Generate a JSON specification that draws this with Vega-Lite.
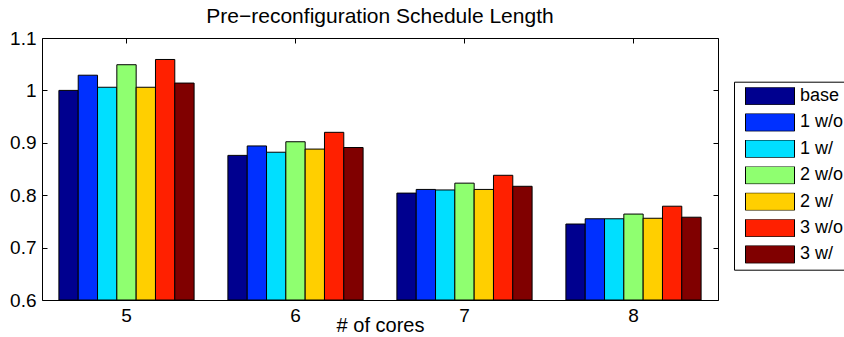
{
  "$schema": "https://vega.github.io/schema/vega-lite/v6.json",
  "width": 676,
  "height": 262,
  "autosize": {"type": "none"},
  "padding": {"left": 42, "top": 38, "right": 126, "bottom": 37},
  "title": {"text": "Pre−reconfiguration Schedule Length", "fontSize": 21, "fontWeight": "normal", "font": "Liberation Sans", "color": "black", "offset": 2, "anchor": "middle"},
  "data": {"values": [
    {"cores": "5", "config": "base", "value": 1.000},
    {"cores": "5", "config": "1 w/o", "value": 1.029},
    {"cores": "5", "config": "1 w/", "value": 1.006},
    {"cores": "5", "config": "2 w/o", "value": 1.049},
    {"cores": "5", "config": "2 w/", "value": 1.006},
    {"cores": "5", "config": "3 w/o", "value": 1.059},
    {"cores": "5", "config": "3 w/", "value": 1.014},
    {"cores": "6", "config": "base", "value": 0.876},
    {"cores": "6", "config": "1 w/o", "value": 0.894},
    {"cores": "6", "config": "1 w/", "value": 0.882},
    {"cores": "6", "config": "2 w/o", "value": 0.902},
    {"cores": "6", "config": "2 w/", "value": 0.888},
    {"cores": "6", "config": "3 w/o", "value": 0.920},
    {"cores": "6", "config": "3 w/", "value": 0.891},
    {"cores": "7", "config": "base", "value": 0.804},
    {"cores": "7", "config": "1 w/o", "value": 0.811},
    {"cores": "7", "config": "1 w/", "value": 0.810},
    {"cores": "7", "config": "2 w/o", "value": 0.823},
    {"cores": "7", "config": "2 w/", "value": 0.811},
    {"cores": "7", "config": "3 w/o", "value": 0.838},
    {"cores": "7", "config": "3 w/", "value": 0.817},
    {"cores": "8", "config": "base", "value": 0.745},
    {"cores": "8", "config": "1 w/o", "value": 0.755},
    {"cores": "8", "config": "1 w/", "value": 0.755},
    {"cores": "8", "config": "2 w/o", "value": 0.764},
    {"cores": "8", "config": "2 w/", "value": 0.756},
    {"cores": "8", "config": "3 w/o", "value": 0.779},
    {"cores": "8", "config": "3 w/", "value": 0.758}
  ]},
  "layer": [
    {
      "mark": {"type": "bar", "stroke": "black", "strokeWidth": 1},
      "encoding": {
        "x": {"field": "cores", "type": "nominal", "scale": {"paddingInner": 0.2, "paddingOuter": 0.1},
          "axis": {"orient": "bottom", "title": "# of cores", "titleFontSize": 20, "labelAngle": 0, "domain": false, "tickSize": -5, "labelPadding": 11, "titlePadding": -10}},
        "xOffset": {"field": "config", "type": "nominal", "sort": ["base", "1 w/o", "1 w/", "2 w/o", "2 w/", "3 w/o", "3 w/"], "scale": {"paddingInner": 0, "paddingOuter": 0}},
        "y": {"field": "value", "type": "quantitative", "scale": {"domain": [0.6, 1.1], "nice": false, "zero": false},
          "axis": {"orient": "left", "title": null, "values": [0.6, 0.7, 0.8, 0.9, 1.0, 1.1], "format": ".1~f", "domain": false, "grid": false, "tickSize": -5, "labelPadding": 11}},
        "y2": {"datum": 0.6},
        "color": {"field": "config", "type": "nominal",
          "scale": {"domain": ["base", "1 w/o", "1 w/", "2 w/o", "2 w/", "3 w/o", "3 w/"], "range": ["#00008F", "#0030FF", "#00DFFF", "#8FFF70", "#FFCF00", "#FF2000", "#800000"]},
          "legend": {"title": null, "orient": "none", "legendX": 692, "legendY": 43.7, "padding": 5.5, "clipHeight": 17.6, "rowPadding": 7.4,
            "symbolType": "M-1,-0.36H1V0.36H-1Z", "symbolSize": 2401, "symbolOffset": 5.5, "symbolStrokeColor": "black", "symbolStrokeWidth": 1, "symbolOpacity": 1,
            "labelFontSize": 18, "labelOffset": 5, "labelColor": "black", "strokeColor": "black", "fillColor": "white"}}
      }
    },
    {
      "mark": {"type": "bar", "opacity": 0},
      "encoding": {
        "x": {"field": "cores", "type": "nominal", "axis": {"orient": "top", "title": null, "labels": false, "domain": false, "tickSize": -5}},
        "xOffset": {"field": "config", "type": "nominal", "sort": ["base", "1 w/o", "1 w/", "2 w/o", "2 w/", "3 w/o", "3 w/"]},
        "y": {"field": "value", "type": "quantitative", "axis": {"orient": "right", "title": null, "labels": false, "values": [0.6, 0.7, 0.8, 0.9, 1.0, 1.1], "domain": false, "grid": false, "tickSize": -5}},
        "y2": {"datum": 0.6}
      }
    }
  ],
  "resolve": {"axis": {"x": "independent", "y": "independent"}},
  "config": {
    "font": "Liberation Sans",
    "view": {"stroke": "black", "strokeWidth": 1},
    "axis": {"labelFontSize": 19, "labelColor": "black", "tickColor": "black", "titleFontSize": 20, "titleFontWeight": "normal", "titleColor": "black", "grid": false}
  }
}
